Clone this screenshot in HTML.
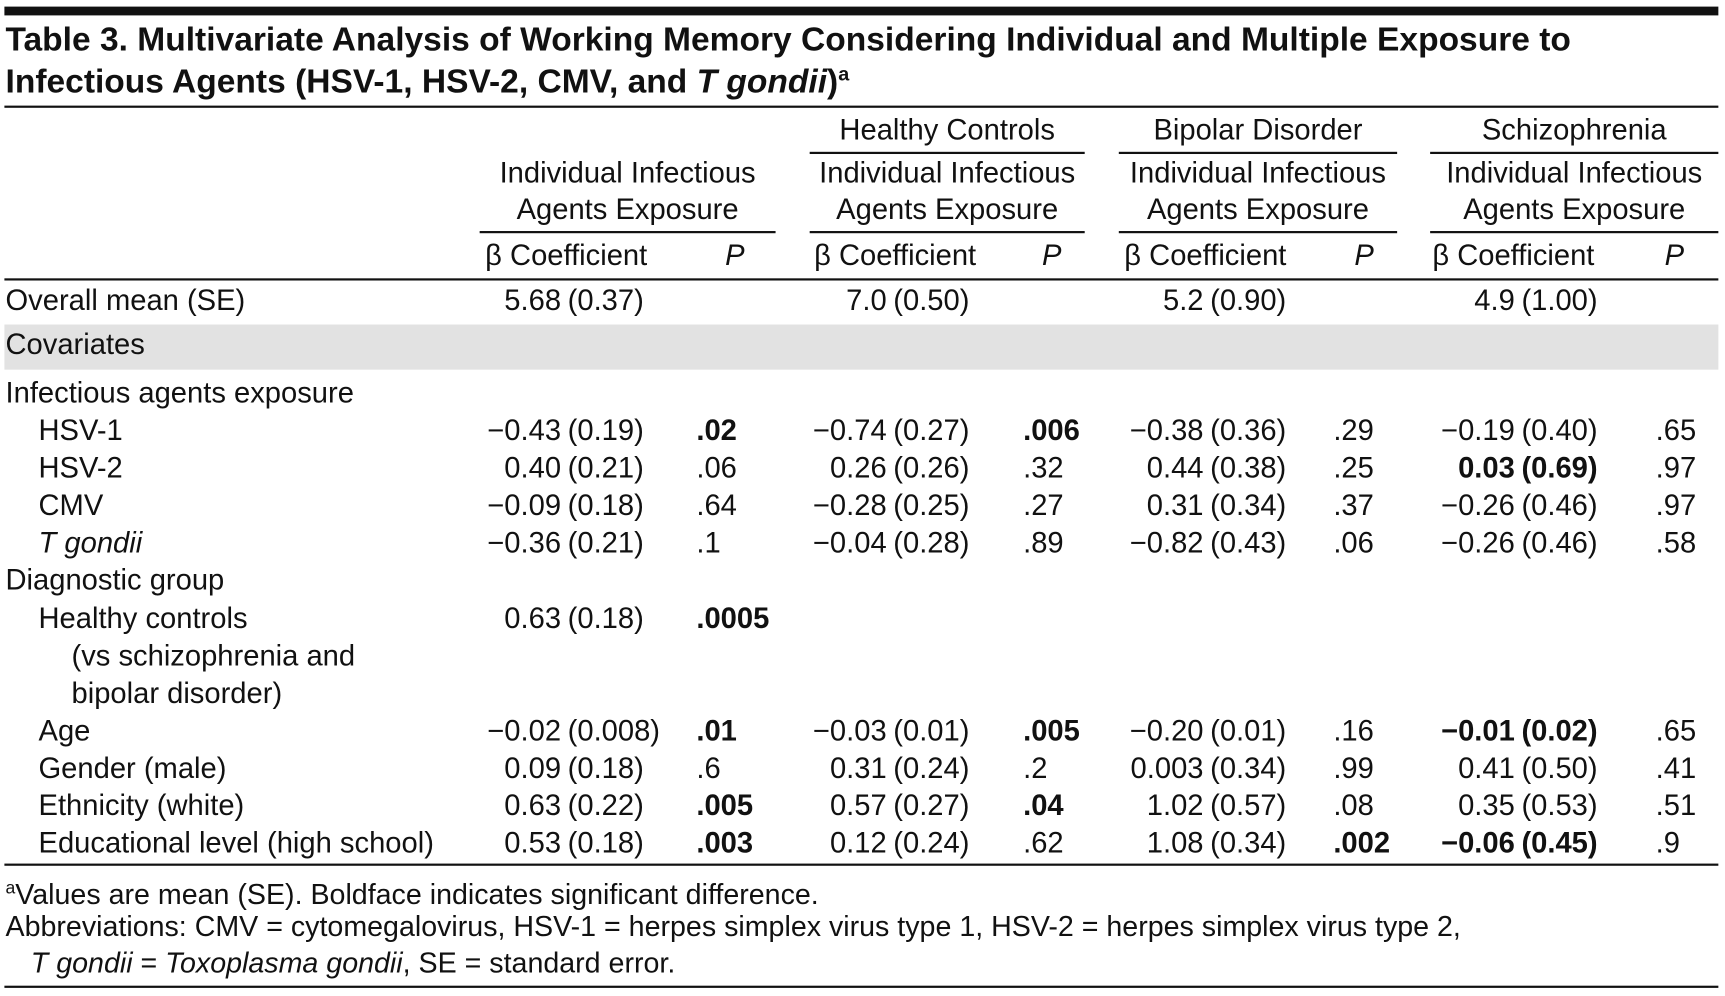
<!DOCTYPE html>
<html><head><meta charset="utf-8"><style>
html,body{margin:0;padding:0;background:#fff;width:1725px;height:995px;overflow:hidden}
#wrap{position:absolute;left:0;top:0;width:1568px;height:905px;transform:scale(1.1001);transform-origin:0 0;font-family:"Liberation Sans",sans-serif;color:#111}
.t{position:absolute;height:34px;line-height:34px;font-size:26.5px;white-space:nowrap}
.r{text-align:right}
.c{text-align:center}
.b{font-weight:bold}
.ln{position:absolute;background:#111}
</style></head><body><div id="wrap">
<div class="ln" style="left:4px;top:6px;width:1558px;height:8px"></div>
<div class="t b" style="left:5px;top:19px;font-size:30.5px">Table 3. Multivariate Analysis of Working Memory Considering Individual and Multiple Exposure to</div>
<div class="t b" style="left:5px;top:50px;font-size:30.5px">Infectious Agents (HSV-1, HSV-2, CMV, and <i>T gondii</i>)<sup style="font-size:18px">a</sup></div>
<div class="ln" style="left:4px;top:96px;width:1558px;height:2px"></div>
<div style="position:absolute;left:4px;top:295px;width:1558px;height:41px;background:#e2e2e2"></div>
<div class="ln" style="left:4px;top:785px;width:1558px;height:2px"></div>
<div class="t" style="left:5px;top:791px;font-size:26px"><sup style="font-size:16px">a</sup>Values are mean (SE). Boldface indicates significant difference.</div>
<div class="t" style="left:5px;top:825px;font-size:26px">Abbreviations: CMV = cytomegalovirus, HSV-1 = herpes simplex virus type 1, HSV-2 = herpes simplex virus type 2,</div>
<div class="t" style="left:28px;top:858px;font-size:26px"><i>T gondii</i> = <i>Toxoplasma gondii</i>, SE = standard error.</div>
<div class="ln" style="left:4px;top:896px;width:1558px;height:2px"></div>
</div>
<script>
const W=document.getElementById('wrap');
function T(txt,x,cy,cls,name,w){const d=document.createElement('div');d.className='t '+(cls||'');d.innerHTML=txt;d.style.top=(cy-17)+'px';
if(cls&&cls.includes('r')){d.style.left=(x-400)+'px';d.style.width='400px';}
else if(cls&&cls.includes('c')){d.style.left=(x-(w||300)/2)+'px';d.style.width=(w||300)+'px';}
else d.style.left=x+'px';


W.appendChild(d);}
function L(x1,x2,y,name){const d=document.createElement('div');d.className='ln';d.style.left=x1+'px';d.style.width=(x2-x1)+'px';d.style.top=y+'px';d.style.height='1.5px';


W.appendChild(d);}
const groups=['','Healthy Controls','Bipolar Disorder','Schizophrenia'];
const spans=[[436,705],[736,986],[1017,1270],[1300,1562]];
const paren=[516,812,1100,1383];
const pX=[633,930,1212,1505];
const pH=[668,956,1240,1522];
const bX=[441,740,1022,1302];
spans.forEach((s,i)=>{const cx=(s[0]+s[1])/2;
 if(groups[i]){T(groups[i],cx,118,'c','group-header-'+i,400);L(s[0],s[1],138,'group-rule-'+i);}
 T('Individual Infectious',cx,157,'c','subheader-1-'+i,400);T('Agents Exposure',cx,190,'c','subheader-2-'+i,400);
 L(s[0],s[1],210,'subheader-rule-'+i);
 T('β Coefficient',bX[i],232,'','beta-header-'+i);T('<i>P</i>',pH[i],232,'c','p-header-'+i,40);});
L(4,1562,253,'header-rule');
const labels=['Overall mean (SE)','Covariates','Infectious agents exposure','HSV-1','HSV-2','CMV','<i>T gondii</i>','Diagnostic group','Healthy controls','(vs schizophrenia and','bipolar disorder)','Age','Gender (male)','Ethnicity (white)','Educational level (high school)'];
const indent=[5,5,5,35,35,35,35,5,35,65,65,35,35,35,35];
const ys=[273,313,357,391,425,459,493,527,562,596,630,664,698,732,766];
const coefs=[
['5.68 (0.37)','7.0 (0.50)','5.2 (0.90)','4.9 (1.00)'],null,null,
['−0.43 (0.19)','−0.74 (0.27)','−0.38 (0.36)','−0.19 (0.40)'],
['0.40 (0.21)','0.26 (0.26)','0.44 (0.38)','*0.03 (0.69)'],
['−0.09 (0.18)','−0.28 (0.25)','0.31 (0.34)','−0.26 (0.46)'],
['−0.36 (0.21)','−0.04 (0.28)','−0.82 (0.43)','−0.26 (0.46)'],null,
['0.63 (0.18)','','',''],null,null,
['−0.02 (0.008)','−0.03 (0.01)','−0.20 (0.01)','*−0.01 (0.02)'],
['0.09 (0.18)','0.31 (0.24)','0.003 (0.34)','0.41 (0.50)'],
['0.63 (0.22)','0.57 (0.27)','1.02 (0.57)','0.35 (0.53)'],
['0.53 (0.18)','0.12 (0.24)','1.08 (0.34)','*−0.06 (0.45)']];
const pvals=[null,null,null,
['*.02','*.006','.29','.65'],['.06','.32','.25','.97'],['.64','.27','.37','.97'],['.1','.89','.06','.58'],null,
['*.0005','','',''],null,null,
['*.01','*.005','.16','.65'],['.6','.2','.99','.41'],['*.005','*.04','.08','.51'],['*.003','.62','*.002','.9']];
labels.forEach((l,r)=>{T(l,indent[r],ys[r],'','row-label-'+r);
 if(coefs[r])coefs[r].forEach((v,i)=>{if(!v)return;let b=v[0]=='*';if(b)v=v.slice(1);const k=v.indexOf(' (');
  T(v.slice(0,k),paren[i]-6,ys[r],'r'+(b?' b':''),'coef-'+r+'-'+i);T(v.slice(k+1),paren[i],ys[r],b?'b':'','se-'+r+'-'+i);});
 if(pvals[r])pvals[r].forEach((v,i)=>{if(!v)return;let b=v[0]=='*';if(b)v=v.slice(1);T(v,pX[i],ys[r],b?'b':'','p-'+r+'-'+i);});});
</script></body></html>
